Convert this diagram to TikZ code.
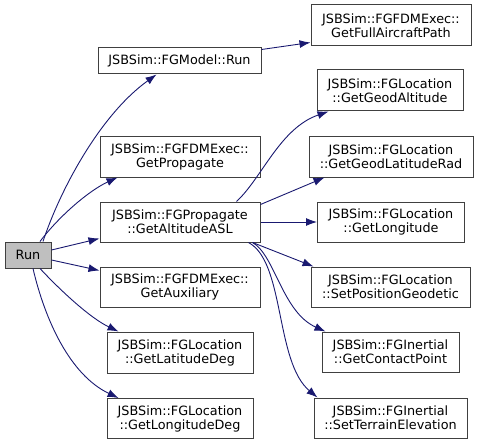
\documentclass[tikz,border=0pt]{standalone}
\usepackage{fontspec}
\setmainfont{DejaVu Sans}
\usetikzlibrary{arrows.meta}
\definecolor{edgeblue}{HTML}{191970}
\definecolor{boxline}{HTML}{404040}
\definecolor{runfill}{HTML}{BFBFBF}
\tikzset{
  fn/.style={draw=boxline, line width=1pt, fill=white, inner sep=0pt, align=center,
    font=\fontsize{12.8}{14}\selectfont, text=black},
  callee/.style={draw=edgeblue, line width=0.9pt, -{Latex[length=11pt,width=8pt]}},
}
\begin{document}
\begin{tikzpicture}[x=1pt,y=-1pt]
\useasboundingbox (0,0) rectangle (477,444);
% nodes
\node[fn, fill=runfill, minimum width=46pt, minimum height=26pt] (run) at (28,255) {Run};
\node[fn, minimum width=163pt, minimum height=26pt] (modelrun) at (179.5,61) {JSBSim::FGModel::Run};
\node[fn, minimum width=160pt, minimum height=41pt] (getprop) at (180,156.5) {JSBSim::FGFDMExec::\\GetPropagate};
\node[fn, minimum width=160pt, minimum height=40pt] (asl) at (180,222) {JSBSim::FGPropagate\\::GetAltitudeASL};
\node[fn, minimum width=160pt, minimum height=40pt] (aux) at (180,287) {JSBSim::FGFDMExec::\\GetAuxiliary};
\node[fn, minimum width=146pt, minimum height=41pt] (latdeg) at (180,352.5) {JSBSim::FGLocation\\::GetLatitudeDeg};
\node[fn, minimum width=146pt, minimum height=40pt] (londeg) at (180,418.5) {JSBSim::FGLocation\\::GetLongitudeDeg};
\node[fn, minimum width=160pt, minimum height=41pt] (fullpath) at (391,25.5) {JSBSim::FGFDMExec::\\GetFullAircraftPath};
\node[fn, minimum width=146pt, minimum height=41pt] (geodalt) at (390,90.5) {JSBSim::FGLocation\\::GetGeodAltitude};
\node[fn, minimum width=164pt, minimum height=41pt] (geodlatrad) at (391,156.5) {JSBSim::FGLocation\\::GetGeodLatitudeRad};
\node[fn, minimum width=147pt, minimum height=40pt] (longitude) at (391,222) {JSBSim::FGLocation\\::GetLongitude};
\node[fn, minimum width=159pt, minimum height=40pt] (setposgeo) at (390.5,287) {JSBSim::FGLocation\\::SetPositionGeodetic};
\node[fn, minimum width=137pt, minimum height=40pt] (contact) at (390.5,352) {JSBSim::FGInertial\\::GetContactPoint};
\node[fn, minimum width=153pt, minimum height=40pt] (terrain) at (390.5,418) {JSBSim::FGInertial\\::SetTerrainElevation};
% edges from Run
\draw[callee] ([xshift=15pt]run.north) .. controls (60,190) and (100,115) .. ([xshift=59pt]modelrun.south west);
\draw[callee] ([xshift=12pt]run.north) .. controls (60,215) and (90,190) .. ([xshift=18pt]getprop.south west);
\draw[callee] ([yshift=5pt]run.east) -- ([yshift=4pt]asl.south west);
\draw[callee] ([yshift=-5pt]run.east) -- ([yshift=-4pt]aux.north west);
\draw[callee] ([xshift=12pt]run.south) .. controls (60,290) and (90,318) .. ([xshift=12pt]latdeg.north west);
\draw[callee] ([xshift=5pt]run.south) .. controls (45,320) and (70,375) .. ([xshift=12pt]londeg.north west);
% edge from FGModel::Run
\draw[callee] ([yshift=-2pt]modelrun.north east) -- ([yshift=4pt]fullpath.south west);
% edges from GetAltitudeASL
\draw[callee] ([xshift=-24pt]asl.north east) .. controls (262,178) and (280,128) .. ([xshift=12pt]geodalt.south west);
\draw[callee] ([yshift=-3pt]asl.north east) -- ([xshift=16pt]geodlatrad.south west);
\draw[callee] (asl.east) -- (longitude.west);
\draw[callee] ([xshift=-8pt]asl.south east) -- ([xshift=3pt]setposgeo.north west);
\draw[callee] ([xshift=-8pt]asl.south east) .. controls (275,255) and (282,312) .. ([xshift=4pt]contact.north west);
\draw[callee] ([xshift=-12pt]asl.south east) .. controls (285,262) and (275,362) .. ([xshift=4pt]terrain.north west);
\end{tikzpicture}
\end{document}
